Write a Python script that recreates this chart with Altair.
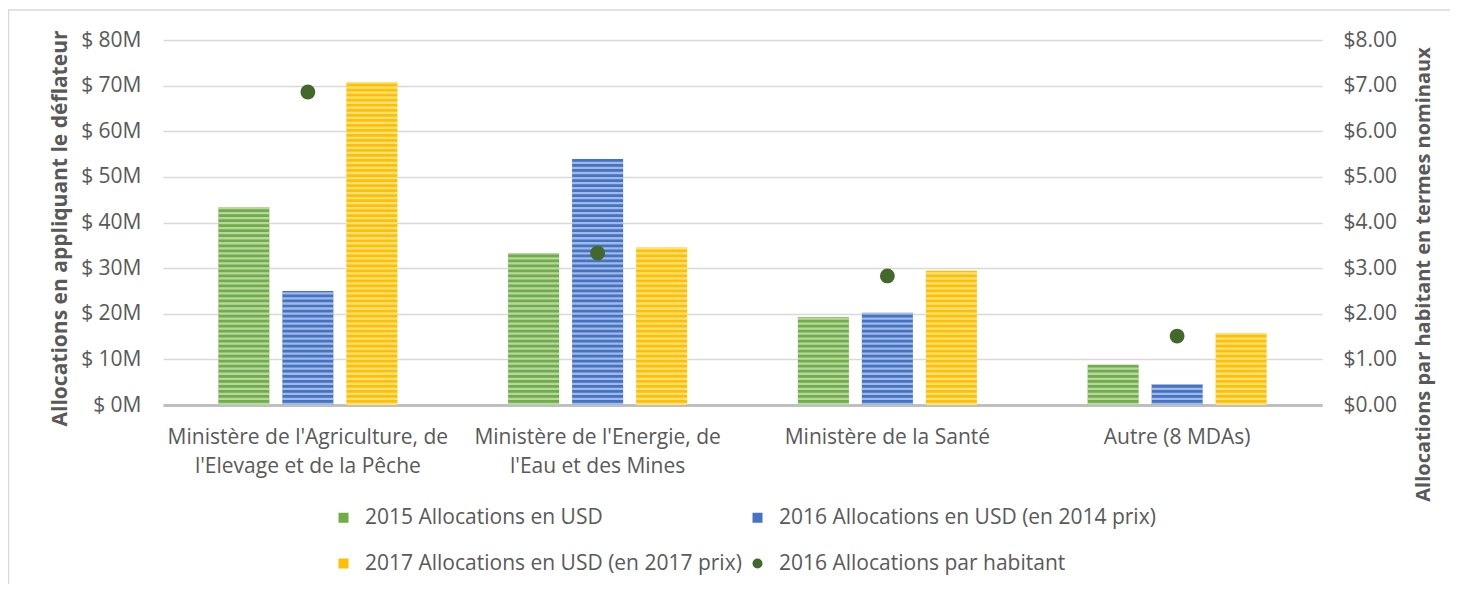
import altair as alt
import pandas as pd

categories = [
    "Ministère de l'Agriculture, de\nl'Elevage et de la Pêche",
    "Ministère de l'Energie, de\nl'Eau et des Mines",
    "Ministère de la Santé",
    "Autre (8 MDAs)",
]
bar_series = [
    "2015 Allocations en USD",
    "2016 Allocations en USD (en 2014 prix)",
    "2017 Allocations en USD (en 2017 prix)",
]
point_series = "2016 Allocations par habitant"
alloc_2015 = [43.4, 33.3, 19.3, 8.8]
alloc_2016 = [25.0, 53.9, 20.2, 4.6]
alloc_2017 = [70.8, 34.6, 29.4, 15.8]
per_capita_2016 = [6.86, 3.33, 2.83, 1.51]
left_ticks = [0, 10, 20, 30, 40, 50, 60, 70, 80]
right_ticks = [0, 1, 2, 3, 4, 5, 6, 7, 8]
series_colors = ["#70AD47", "#4472C4", "#FFC000", "#43682B"]
series_shapes = ["square", "square", "square", "circle"]

all_series = bar_series + [point_series]
rows = []
for s, vals in zip(bar_series, [alloc_2015, alloc_2016, alloc_2017]):
    for c, v in zip(categories, vals):
        rows.append({"category": c, "series": s, "value": v})
bars_df = pd.DataFrame(rows)
points_df = pd.DataFrame({"category": categories, "series": point_series, "value": per_capita_2016})

FONT = "Open Sans"
GREY = "#595959"

legend = alt.Legend(
    title=None, orient="none", legendX=170, legendY=467, columns=2, direction="horizontal",
    columnPadding=5, rowPadding=24, symbolSize=100, labelFontSize=21, labelLimit=0,
    labelColor=GREY, labelOffset=11, padding=0, symbolStrokeWidth=0,
)
color_enc = alt.Color("series:N", scale=alt.Scale(domain=all_series, range=series_colors), legend=legend)

x_enc = alt.X(
    "category:N", sort=categories,
    scale=alt.Scale(domain=categories, paddingInner=0, paddingOuter=0),
    axis=alt.Axis(
        title=None, labelExpr="split(datum.label, '\\n')", labelAngle=0, labelLimit=0,
        labelFontSize=21, labelLineHeight=29, labelPadding=21, labelColor=GREY,
        domainColor="#BFBFBF", domainWidth=3, ticks=False, grid=False,
    ),
)
xoff_enc = alt.XOffset("series:N", scale=alt.Scale(domain=bar_series, paddingInner=0.203, paddingOuter=0.865))
y_scale = alt.Scale(domain=[0, 80], nice=False)

bars = alt.Chart(bars_df).mark_bar().encode(
    x=x_enc,
    xOffset=xoff_enc,
    y=alt.Y("value:Q", scale=y_scale, axis=alt.Axis(
        title="Allocations en appliquant le déflateur", values=left_ticks,
        labelExpr="'$ ' + datum.value + 'M'", domain=False, ticks=False,
        gridColor="#D9D9D9", gridWidth=1.5, labelFontSize=21, labelColor=GREY,
        labelPadding=22, titleFontSize=21, titleFontWeight="bold", titleColor=GREY,
        titleX=-103, titleY=188, titleAngle=270, titleAlign="center", titleBaseline="middle",
    )),
    color=color_enc,
)

stripes = alt.Chart(bars_df).transform_calculate(
    s="sequence(0, datum.value, 1.1)"
).transform_flatten(["s"]).transform_calculate(
    s2="min(datum.s + 0.5, datum.value)"
).mark_bar(color="white", opacity=0.5).encode(
    x=alt.X("category:N", sort=categories),
    xOffset=alt.XOffset("series:N"),
    y=alt.Y("s:Q", scale=y_scale),
    y2="s2:Q",
)

border_df = pd.DataFrame({"k": [0]})
left_border = alt.Chart(border_df).mark_rule(color="#D9D9D9", strokeWidth=1.5).encode(
    x=alt.value(-154.5), y=alt.value(-30), y2=alt.value(560)
)
top_border = alt.Chart(border_df).mark_rule(color="#D9D9D9", strokeWidth=1.5).encode(
    x=alt.value(-155), x2=alt.value(1300), y=alt.value(-30)
)

inner = alt.layer(left_border, top_border, bars, stripes)

points = alt.Chart(points_df).mark_point(filled=True, size=220, opacity=1).encode(
    x=alt.X("category:N", sort=categories),
    y=alt.Y("value:Q", scale=alt.Scale(domain=[0, 8], nice=False), axis=alt.Axis(
        orient="right", title="Allocations par habitant en termes nominaux",
        values=right_ticks, labelExpr="'$' + format(datum.value, '.2f')",
        grid=False, domain=False, ticks=False, labelFontSize=21, labelColor=GREY,
        labelPadding=21, titleFontSize=20, titleFontWeight="bold", titleColor=GREY,
        titleX=101, titleY=234, titleAngle=270, titleAlign="center", titleBaseline="middle",
    )),
    color=color_enc,
    shape=alt.Shape("series:N", scale=alt.Scale(domain=all_series, range=series_shapes), legend=legend),
)

chart = alt.layer(inner, points).resolve_scale(y="independent").properties(
    width=1159, height=365,
    autosize=alt.AutoSizeParams(type="none"),
    padding={"left": 155, "top": 32, "right": 128, "bottom": 179},
).configure(font=FONT).configure_view(stroke=None)

chart.save("out.html", embed_options={"renderer": "svg", "actions": False})
